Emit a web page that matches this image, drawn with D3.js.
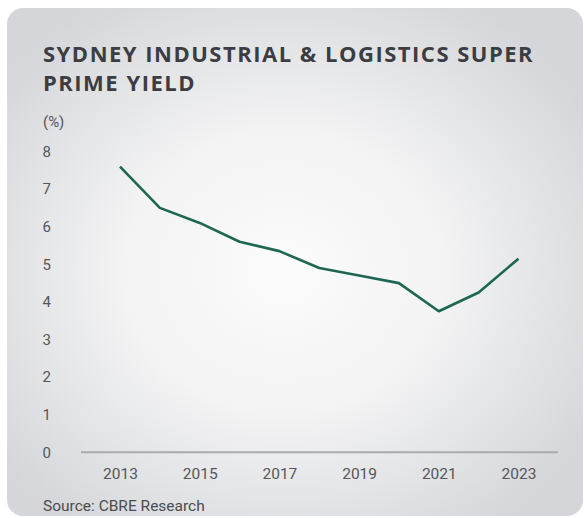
<!DOCTYPE html>
<html>
<head>
<meta charset="utf-8">
<script src="https://cdn.jsdelivr.net/npm/d3@7/dist/d3.min.js"></script>
<style>
  html, body { margin: 0; padding: 0; background: #ffffff; }
  svg { display: block; font-family: Roboto, "Noto Sans", sans-serif; }
</style>
</head>
<body>
<script>
// ---- data ----
const years = [2013, 2014, 2015, 2016, 2017, 2018, 2019, 2020, 2021, 2022, 2023];
const yieldValues = [7.6, 6.5, 6.1, 5.6, 5.35, 4.9, 4.7, 4.5, 3.75, 4.25, 5.15];
const xTickLabels = [2013, 2015, 2017, 2019, 2021, 2023];
const yTickLabels = [0, 1, 2, 3, 4, 5, 6, 7, 8];
const titleLines = ["SYDNEY INDUSTRIAL & LOGISTICS SUPER", "PRIME YIELD"];
const unitLabel = "(%)";
const sourceLabel = "Source: CBRE Research";

const W = 585, H = 518;
const svg = d3.select("body").append("svg").attr("width", W).attr("height", H);

const defs = svg.append("defs");
const grad = defs.append("radialGradient").attr("id", "bg")
  .attr("cx", "48%").attr("cy", "52%").attr("r", "62%");
grad.append("stop").attr("offset", "0%").attr("stop-color", "#fbfbfb");
grad.append("stop").attr("offset", "45%").attr("stop-color", "#f3f3f4");
grad.append("stop").attr("offset", "100%").attr("stop-color", "#d4d6d9");

svg.append("rect").attr("x", 7).attr("y", 8).attr("width", 576).attr("height", 508)
  .attr("rx", 16).attr("fill", "url(#bg)");

// title
const titleWidth = 499;
const titleEls = titleLines.map((t, i) =>
  svg.append("text").attr("x", 43).attr("y", 62 + i * 29)
    .attr("fill", "#3b3d42")
    .style("font-family", "'Open Sans', 'Noto Sans', sans-serif")
    .style("font-weight", 700)
    .style("font-size", "21px").text(t));
const w1 = titleEls[0].node().getComputedTextLength();
const fs = Math.max(19, Math.min(22, 21 * titleWidth / w1));
titleEls.forEach(el => el.style("font-size", fs.toFixed(2) + "px"));
const w1b = titleEls[0].node().getComputedTextLength();
if (w1b < titleWidth - 2) {
  const ls = Math.min(1.5, (titleWidth - w1b) / (titleLines[0].length - 1));
  titleEls.forEach(el => el.attr("letter-spacing", ls.toFixed(2)));
}

svg.append("text").attr("x", 43).attr("y", 127).attr("fill", "#54565a")
  .style("font-size", "15px").text(unitLabel);

// scales
const x = d3.scalePoint().domain(years).range([120, 518.5]);
const y = d3.scaleLinear().domain([0, 8]).range([452.3, 151.5]);

// y labels
const yAxis = d3.axisLeft(y).tickValues(yTickLabels).tickSize(0).tickPadding(0);
const gy = svg.append("g").attr("transform", "translate(51,0)").call(yAxis);
gy.select(".domain").remove();
gy.selectAll("text").style("font-size", "15px").attr("fill", "#54565a")
  .style("font-family", "Roboto, sans-serif").attr("text-anchor", "end");

// baseline
svg.append("line").attr("x1", 81).attr("x2", 558).attr("y1", y(0)).attr("y2", y(0))
  .attr("stroke", "#a9abae").attr("stroke-width", 2);

// x labels
const xAxis = d3.axisBottom(x).tickValues(xTickLabels).tickSize(0).tickPadding(0)
  .tickFormat(d3.format("d"));
const gx = svg.append("g").attr("transform", "translate(0,468)").call(xAxis);
gx.select(".domain").remove();
gx.selectAll("text").style("font-size", "15.5px").attr("fill", "#54565a")
  .style("font-family", "Roboto, sans-serif");

// line
const line = d3.line().x((d, i) => x(years[i])).y(d => y(d));
svg.append("path").datum(yieldValues).attr("d", line)
  .attr("fill", "none").attr("stroke", "#1d6652").attr("stroke-width", 2.6)
  .attr("stroke-linejoin", "round").attr("stroke-linecap", "butt");

// source
svg.append("text").attr("x", 43).attr("y", 511).attr("fill", "#4a4c50")
  .style("font-size", "15.5px").text(sourceLabel);
</script>
</body>
</html>
